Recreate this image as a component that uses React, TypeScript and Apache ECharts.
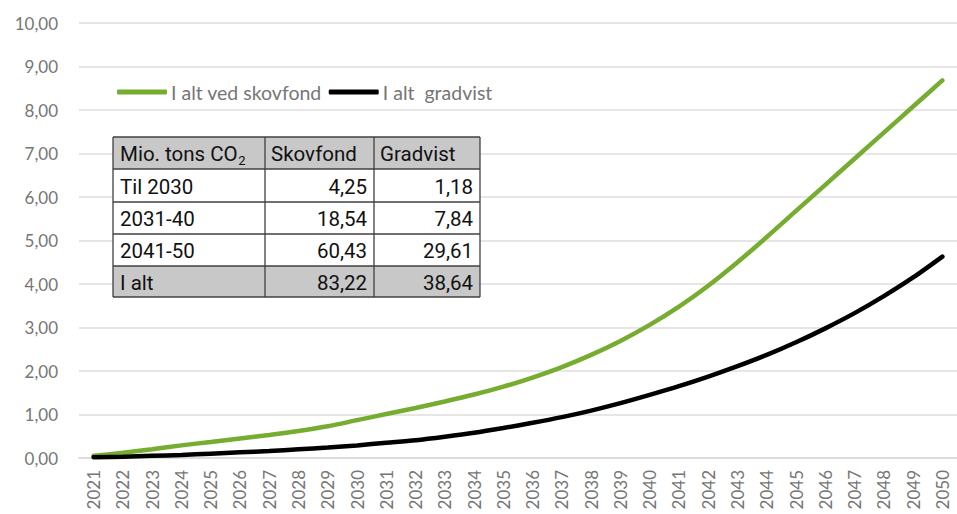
import React, { useEffect, useRef } from "react";
import * as echarts from "echarts";

const years = [
  "2021","2022","2023","2024","2025","2026","2027","2028","2029","2030",
  "2031","2032","2033","2034","2035","2036","2037","2038","2039","2040",
  "2041","2042","2043","2044","2045","2046","2047","2048","2049","2050",
];
const skovfond = [
  0.05, 0.12, 0.2, 0.29, 0.37, 0.45, 0.53, 0.62, 0.73, 0.87,
  1.01, 1.15, 1.3, 1.46, 1.64, 1.85, 2.09, 2.37, 2.69, 3.06,
  3.48, 3.96, 4.5, 5.08, 5.68, 6.28, 6.88, 7.48, 8.08, 8.68,
];
const gradvist = [
  0.02, 0.03, 0.05, 0.07, 0.1, 0.13, 0.16, 0.2, 0.24, 0.29,
  0.35, 0.41, 0.49, 0.58, 0.69, 0.81, 0.94, 1.09, 1.26, 1.45,
  1.65, 1.87, 2.11, 2.37, 2.66, 2.98, 3.33, 3.72, 4.15, 4.63,
];
const seriesNames = ["I alt ved skovfond", "I alt  gradvist"];
const tableHeader = ["Mio. tons CO", "Skovfond", "Gradvist"];
const tableHeaderSub = "2";
const tableRowLabels = ["Til 2030", "2031-40", "2041-50", "I alt"];
const tableSkovfond = [4.25, 18.54, 60.43, 83.22];
const tableGradvist = [1.18, 7.84, 29.61, 38.64];

const fmt = (v: number) => v.toFixed(2).replace(".", ",");

function measure(text: string, font: string): number {
  const c = document.createElement("canvas");
  const ctx = c.getContext("2d");
  if (!ctx) return text.length * 9;
  ctx.font = font;
  return ctx.measureText(text).width;
}

export default function App() {
  const ref = useRef<HTMLDivElement>(null);
  useEffect(() => {
    if (!ref.current) return;
    const chart = echarts.init(ref.current, null, { renderer: "svg" });

    const colX = [113, 265, 374, 480];
    const rowY = [137, 169, 202, 234, 266, 297];
    const tableFontFamily = "Roboto, sans-serif";
    const tableFont = `20.5px ${tableFontFamily}`;
    const els: any[] = [];
    els.push({ type: "rect", shape: { x: colX[0], y: rowY[0], width: colX[3] - colX[0], height: rowY[1] - rowY[0] }, style: { fill: "#c8c8c8" }, z: 10 });
    els.push({ type: "rect", shape: { x: colX[0], y: rowY[4], width: colX[3] - colX[0], height: rowY[5] - rowY[4] }, style: { fill: "#c8c8c8" }, z: 10 });
    els.push({ type: "rect", shape: { x: colX[0], y: rowY[1], width: colX[3] - colX[0], height: rowY[4] - rowY[1] }, style: { fill: "#ffffff" }, z: 10 });
    rowY.forEach((y) => {
      els.push({ type: "line", shape: { x1: colX[0], y1: y, x2: colX[3], y2: y }, style: { stroke: "#404040", lineWidth: 1.3 }, z: 11 });
    });
    colX.forEach((x) => {
      els.push({ type: "line", shape: { x1: x, y1: rowY[0], x2: x, y2: rowY[5] }, style: { stroke: "#404040", lineWidth: 1.3 }, z: 11 });
    });
    const txt = (text: string, x: number, y: number, align: string) => ({
      type: "text",
      x, y,
      style: { text, fill: "#111", font: tableFont, align, verticalAlign: "middle" },
      z: 12,
    });
    const hy = (rowY[0] + rowY[1]) / 2 + 1;
    els.push(txt(tableHeader[0], colX[0] + 7, hy, "left"));
    const w0 = measure(tableHeader[0], tableFont);
    els.push({ type: "text", x: colX[0] + 7 + w0 + 0.5, y: hy + 6, style: { text: tableHeaderSub, fill: "#111", font: `13px ${tableFontFamily}`, align: "left", verticalAlign: "middle" }, z: 12 });
    els.push(txt(tableHeader[1], colX[1] + 6, hy, "left"));
    els.push(txt(tableHeader[2], colX[2] + 6, hy, "left"));
    tableRowLabels.forEach((lab, i) => {
      const cy = (rowY[i + 1] + rowY[i + 2]) / 2 + 1;
      els.push(txt(lab, colX[0] + 7, cy, "left"));
      els.push(txt(fmt(tableSkovfond[i]), colX[2] - 7, cy, "right"));
      els.push(txt(fmt(tableGradvist[i]), colX[3] - 7, cy, "right"));
    });

    chart.setOption({
      animation: false,
      textStyle: { fontFamily: "Lato, 'Open Sans', sans-serif" },
      grid: { left: 79, top: 23, width: 888, height: 435, containLabel: false },
      legend: {
        left: 112,
        top: 77,
        itemWidth: 50,
        itemHeight: 5,
        itemGap: 7,
        icon: "roundRect",
        textStyle: { color: "#767676", fontSize: 19.5, fontFamily: "Lato, 'Open Sans', sans-serif", padding: [0, 0, 0, -1] },
        data: seriesNames,
      },
      xAxis: {
        type: "category",
        data: years,
        boundaryGap: true,
        axisLine: { lineStyle: { color: "#d9d9d9", width: 1.5 } },
        axisTick: { show: false },
        axisLabel: { rotate: 90, color: "#767676", fontSize: 17, margin: 12, interval: 0 },
      },
      yAxis: {
        type: "value",
        min: 0,
        max: 10,
        interval: 1,
        axisLine: { show: false },
        axisTick: { show: false },
        splitLine: { lineStyle: { color: "#dedede", width: 1.5 } },
        axisLabel: { color: "#767676", fontSize: 17, margin: 21, formatter: (v: number) => fmt(v) },
      },
      series: [
        {
          name: seriesNames[0],
          type: "line",
          data: skovfond,
          smooth: 0.3,
          showSymbol: false,
          lineStyle: { color: "#76AD31", width: 4.5, cap: "round" },
          itemStyle: { color: "#76AD31" },
        },
        {
          name: seriesNames[1],
          type: "line",
          data: gradvist,
          smooth: 0.3,
          showSymbol: false,
          lineStyle: { color: "#000000", width: 4.5, cap: "round" },
          itemStyle: { color: "#000000" },
        },
      ],
      graphic: els,
    });
    return () => chart.dispose();
  }, []);
  return (
    <div
      ref={ref}
      style={{ position: "fixed", left: 0, top: 0, width: 957, height: 514, background: "#fff" }}
    />
  );
}
